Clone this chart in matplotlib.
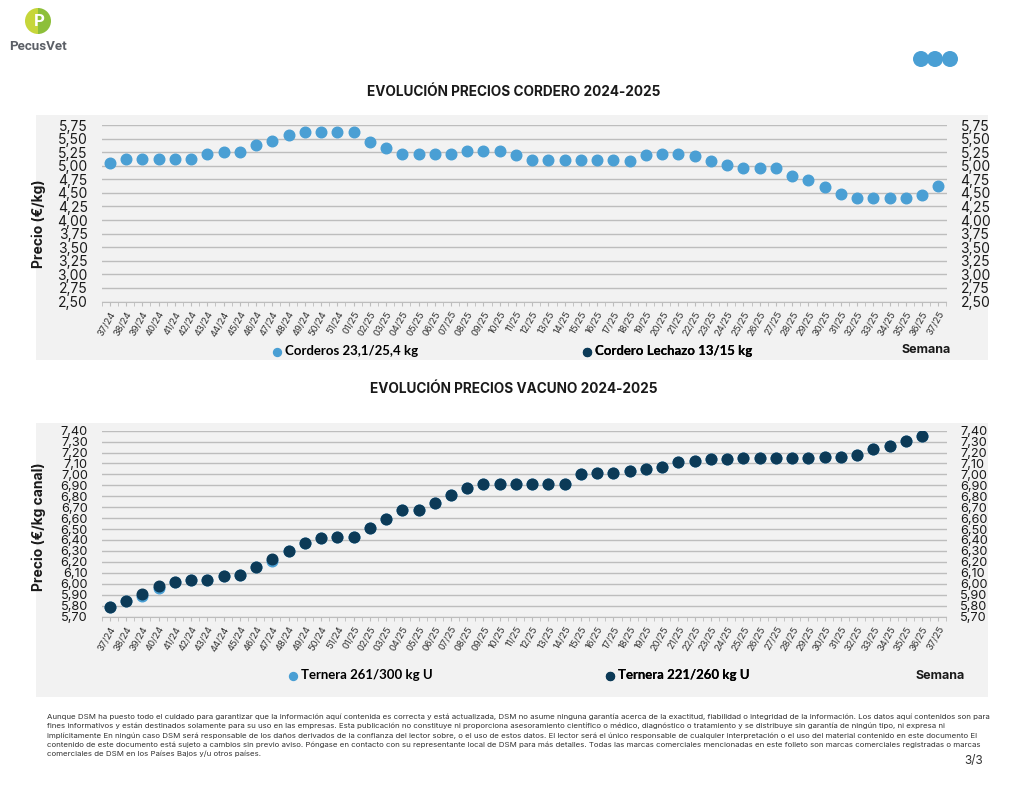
import matplotlib
matplotlib.use("Agg")
import matplotlib.pyplot as plt
import numpy as np
from matplotlib.patches import Rectangle, Circle, Wedge

plt.rcParams['font.family'] = ['Inter', 'DejaVu Sans']

# week labels 37/24 ... 37/25
semanas = [f"{w}/24" for w in range(37, 52)] + [f"{w:02d}/25" for w in range(1, 38)]

# lamb prices (€/kg)
corderos = [5.05, 5.12, 5.12, 5.12, 5.12, 5.12, 5.22, 5.25, 5.25, 5.38, 5.46, 5.56,
            5.63, 5.63, 5.63, 5.63,
            5.44, 5.32, 5.22, 5.22, 5.22, 5.22, 5.27, 5.27, 5.27, 5.20, 5.11, 5.11,
            5.11, 5.11, 5.11, 5.11, 5.09, 5.19, 5.22, 5.22, 5.17, 5.09, 5.01, 4.95,
            4.95, 4.95, 4.82, 4.73, 4.61, 4.48, 4.40, 4.40, 4.40, 4.40, 4.46, 4.63]
lechazo = []  # no values shown in the chart

# beef prices (€/kg canal)
ternera_261 = [5.79, 5.84, 5.89, 5.96, 6.02, 6.03, 6.03, 6.07, 6.08, 6.15, 6.21, 6.30,
               6.37, 6.42, 6.43, 6.43,
               6.51, 6.59, 6.67, 6.67, 6.74, 6.81, 6.88, 6.91, 6.91, 6.91, 6.91, 6.91,
               6.91, 7.00, 7.01, 7.01, 7.03, 7.05, 7.07, 7.11, 7.12, 7.14, 7.14, 7.15,
               7.15, 7.15, 7.15, 7.15, 7.16, 7.16, 7.18, 7.23, 7.26, 7.31, 7.35, np.nan]
ternera_221 = [5.79, 5.84, 5.91, 5.98, 6.02, 6.03, 6.03, 6.07, 6.08, 6.15, 6.23, 6.30,
               6.37, 6.42, 6.43, 6.43,
               6.51, 6.59, 6.67, 6.67, 6.74, 6.81, 6.88, 6.91, 6.91, 6.91, 6.91, 6.91,
               6.91, 7.00, 7.01, 7.01, 7.03, 7.05, 7.07, 7.11, 7.12, 7.14, 7.14, 7.15,
               7.15, 7.15, 7.15, 7.15, 7.16, 7.16, 7.18, 7.23, 7.26, 7.31, 7.35, np.nan]

light = '#4a9fd4'
dark = '#0c3a57'
panel = '#f2f2f2'
grid = '#bdbdbd'
txt = '#1a1a1a'

footer_lines = [
    "Aunque DSM ha puesto todo el cuidado para garantizar que la información aquí contenida es correcta y está actualizada, DSM no asume ninguna garantía acerca de la exactitud, fiabilidad o integridad de la información. Los datos aquí contenidos son para",
    "fines informativos y están destinados solamente para su uso en las empresas. Esta publicación no constituye ni proporciona asesoramiento científico o médico, diagnóstico o tratamiento y se distribuye sin garantía de ningún tipo, ni expresa ni",
    "implícitamente En ningún caso DSM será responsable de los daños derivados de la confianza del lector sobre, o el uso de estos datos. El lector será el único responsable de cualquier interpretación o el uso del material contenido en este documento El",
    "contenido de este documento está sujeto a cambios sin previo aviso. Póngase en contacto con su representante local de DSM para más detalles. Todas las marcas comerciales mencionadas en este folleto son marcas comerciales registradas o marcas",
    "comerciales de DSM en los Países Bajos y/u otros países.",
]

W, H = 1024, 791
fig = plt.figure(figsize=(W / 100, H / 100), dpi=100)

# background layer in pixel coordinates
bg = fig.add_axes([0, 0, 1, 1])
bg.set_xlim(0, W)
bg.set_ylim(H, 0)
bg.axis('off')
bg.add_patch(Rectangle((36, 115), 952, 245, color=panel, lw=0))
bg.add_patch(Rectangle((36, 423), 952, 274, color=panel, lw=0))

# logo
bg.add_patch(Wedge((38, 21), 13, 90, 270, color='#c6d63a', lw=0))
bg.add_patch(Wedge((38, 21), 13, -90, 90, color='#8dbf3a', lw=0))
bg.text(39, 21.5, 'P', color='white', fontsize=12, fontweight='bold', ha='center', va='center')
bg.text(38, 46.5, 'PecusVet', color='#5b5f66', fontsize=9.6, fontweight='bold',
        ha='center', va='center', family='Roboto')
for cx in (921, 935, 950):
    bg.add_patch(Circle((cx, 59), 8, color=light, lw=0))

bg.text(514, 92, 'EVOLUCIÓN PRECIOS CORDERO 2024-2025', fontsize=9.8, fontweight='bold',
        ha='center', va='center', color=txt)
bg.text(514, 389, 'EVOLUCIÓN PRECIOS VACUNO 2024-2025', fontsize=9.8, fontweight='bold',
        ha='center', va='center', color=txt)
bg.text(951, 350, 'Semana', fontsize=9, fontweight='bold', ha='right', va='center', color=txt)
bg.text(965, 676, 'Semana', fontsize=9, fontweight='bold', ha='right', va='center', color=txt)
for i, line in enumerate(footer_lines):
    bg.text(47, 717 + i * 9.2, line, fontsize=5.65, ha='left', va='center', color='#333333')
bg.text(983, 761, '3/3', fontsize=8.5, ha='right', va='center', color='#333333')

x = np.arange(len(semanas))


def style_axis(ax, ylo, yhi, step, ylabel, ysize, ylab_y):
    ax.set_facecolor('none')
    ax.set_xlim(-0.5, len(semanas) - 0.5)
    ax.set_ylim(ylo, yhi)
    yt = np.round(np.arange(ylo, yhi + step / 2, step), 2)
    ax.set_yticks(yt)
    ax.set_yticklabels([f"{v:.2f}".replace('.', ',') for v in yt], fontsize=ysize, color=txt)
    ax.tick_params(axis='y', length=0, pad=10, labelright=True)
    ax.set_xticks(x)
    ax.set_xticklabels(semanas, rotation=60, ha='right', rotation_mode='anchor',
                       fontsize=6.8, color='#333333')
    ax.set_xticks(np.arange(-0.5, len(semanas)), minor=True)
    ax.tick_params(axis='x', which='both', length=3, color=grid, pad=3)
    ax.grid(axis='y', color=grid, lw=1)
    ax.set_axisbelow(True)
    for s in ('top', 'left', 'right'):
        ax.spines[s].set_visible(False)
    ax.spines['bottom'].set_color(grid)
    ax.set_ylabel(ylabel, fontsize=10, fontweight='bold', color=txt)
    ax.yaxis.set_label_coords(-0.066, ylab_y)


def legend_item(ax, handle, label, xpix, ypix):
    pos = ax.get_position()
    bx = (xpix / W - pos.x0) / pos.width
    by = ((1 - ypix / H) - pos.y0) / pos.height
    leg = ax.legend(handles=[handle], labels=[label], loc='center left', bbox_to_anchor=(bx, by),
                    frameon=False, borderpad=0, borderaxespad=0, handlelength=0.6,
                    handletextpad=0.3, markerscale=0.75,
                    prop={'weight': 'bold', 'size': 9.5, 'family': 'Lato'})
    ax.add_artist(leg)


# top chart: lamb
ax1 = fig.add_axes([101.7 / W, 1 - 301.5 / H, 844.8 / W, 176.5 / H])
h1 = ax1.scatter(x, corderos, s=58, color=light, zorder=3)
h2 = ax1.scatter(lechazo, lechazo, s=58, color=dark, zorder=3)
style_axis(ax1, 2.50, 5.75, 0.25, 'Precio (€/kg)', 10, 0.44)
legend_item(ax1, h1, 'Corderos 23,1/25,4 kg', 273, 351)
legend_item(ax1, h2, 'Cordero Lechazo 13/15 kg', 583, 351)

# bottom chart: beef
ax2 = fig.add_axes([101.7 / W, 1 - 616.5 / H, 844.8 / W, 185.8 / H])
h3 = ax2.scatter(x, ternera_261, s=58, color=light, zorder=3)
h4 = ax2.scatter(x, ternera_221, s=58, color=dark, zorder=4)
style_axis(ax2, 5.70, 7.40, 0.10, 'Precio (€/kg canal)', 9.2, 0.483)
legend_item(ax2, h3, 'Ternera 261/300 kg U', 289, 675)
legend_item(ax2, h4, 'Ternera 221/260 kg U', 606, 675)

fig.savefig('out.png', dpi=100)
